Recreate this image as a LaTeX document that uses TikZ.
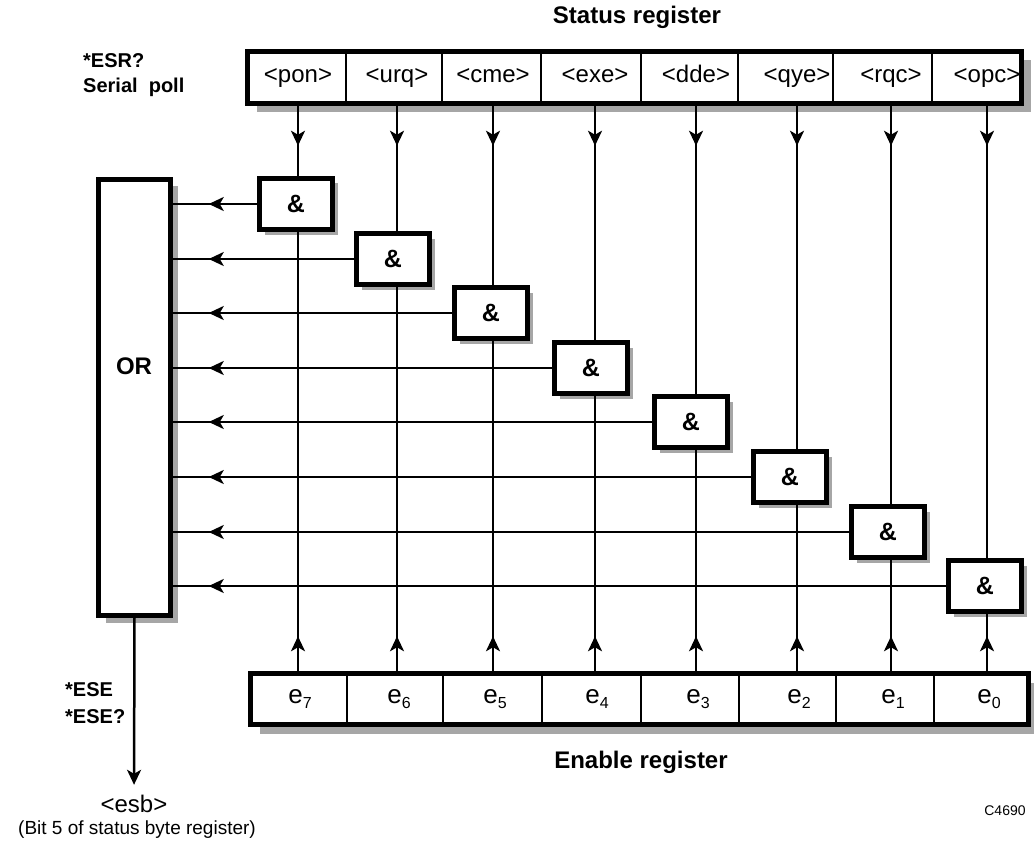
\documentclass[tikz,border=0pt]{standalone}
\usepackage{fontspec}
\setmainfont{Liberation Sans}
\usetikzlibrary{arrows.meta,shadows,decorations.markings}
\newcommand\esubscr[1]{\raisebox{-5pt}{\fontsize{16}{16}\selectfont #1}}
\begin{document}
\begin{tikzpicture}[x=1pt,y=-1pt,
  conn/.style={line width=2.5pt},
  headtip/.tip={Stealth[length=15pt,width=14pt,inset=4pt]},
  marrow/.style={postaction={decorate,decoration={markings,mark=at position #1 with {\arrow{headtip}}}}},
  shad/.style={drop shadow={shadow xshift=#1,shadow yshift=-#1,fill=black!35,opacity=1}},
  box/.style={draw,line width=4.5pt,fill=white,inner sep=0pt},
  gate/.style={box,minimum width=73pt,minimum height=51pt,shad=5pt,font=\fontsize{25}{25}\selectfont\bfseries},
  regbox/.style={box,shad=9pt},
  divline/.style={line width=2pt},
  regtxt/.style={inner sep=0pt,text height=17pt,text depth=5pt,font=\fontsize{24}{24}\selectfont},
  etxt/.style={inner sep=0pt,text height=17pt,text depth=5pt,font=\fontsize{26}{26}\selectfont},
  title/.style={inner sep=0pt,font=\fontsize{24}{24}\selectfont\bfseries},
  cmd/.style={inner sep=0pt,align=left,anchor=west},
]
\useasboundingbox[fill=white] (0,0) rectangle (1034,848);

% registers
\node[regbox,minimum width=774pt,minimum height=52pt] (SR) at (634.5,77.5) {};
\node[regbox,minimum width=778pt,minimum height=51pt] (ER) at (639.5,699) {};
\node[box,minimum width=72pt,minimum height=436pt,shad=7pt] (OR) at (134.5,397.5) {};
\node[title] (ORtxt) at (134,366) {OR};

\foreach \x in {346,442,541,641,738,833,932}
  \draw[divline] (\x,0 |- SR.north) -- (\x,0 |- SR.south);
\foreach \x in {347,443,542,641,739,836,934}
  \draw[divline] (\x,0 |- ER.north) -- (\x,0 |- ER.south);

\node[title] (st) at (637,17) {Status register};
\node[title] (en) at (641,762) {Enable register};

\foreach \i/\cx/\gx/\gy/\st/\en in {0/298/296/204/pon/7,1/397/393/259/urq/6,2/493/491/313/cme/5,3/595/591/368/exe/4,4/696/691/422/dde/3,5/797/790/477/qye/2,6/891/888/532/rqc/1,7/987/985/586/opc/0}{
  \node[gate] (g\i) at (\gx,\gy) {\&};
  \node[regtxt] (s\i) at (\cx,77) {<\st>};
  \node[etxt] (e\i) at (\cx+2,697) {e\esubscr{\en}};
  \draw[conn,marrow=40pt] (s\i |- SR.south) -- (s\i |- g\i.north);
  \draw[conn,marrow=35pt] (s\i |- ER.north) -- (s\i |- g\i.south);
  \draw[conn,marrow=-36pt] (g\i.west) -- (g\i.west -| OR.east);
}

\node[cmd,font=\fontsize{20}{25}\selectfont\bfseries] (esr) at (83,75.5) {*ESR?\\Serial~ poll};
\node[cmd,font=\fontsize{20}{27}\selectfont\bfseries] (ese) at (65,703) {*ESE\\*ESE?};

\node[inner sep=0pt,text height=15pt,text depth=1pt,font=\fontsize{24}{24}\selectfont] (esb) at (134,805) {<esb>};
\node[inner sep=0pt,text height=14pt,text depth=4pt,font=\fontsize{19}{19}\selectfont] (bit) at (137,829) {(Bit 5 of status byte register)};
\draw[conn,-headtip,shorten >=12pt] (OR.south) -- (esb.north);

\node[inner sep=0pt,font=\fontsize{14}{14}\selectfont] (code) at (1005,811) {C4690};
\end{tikzpicture}
\end{document}
